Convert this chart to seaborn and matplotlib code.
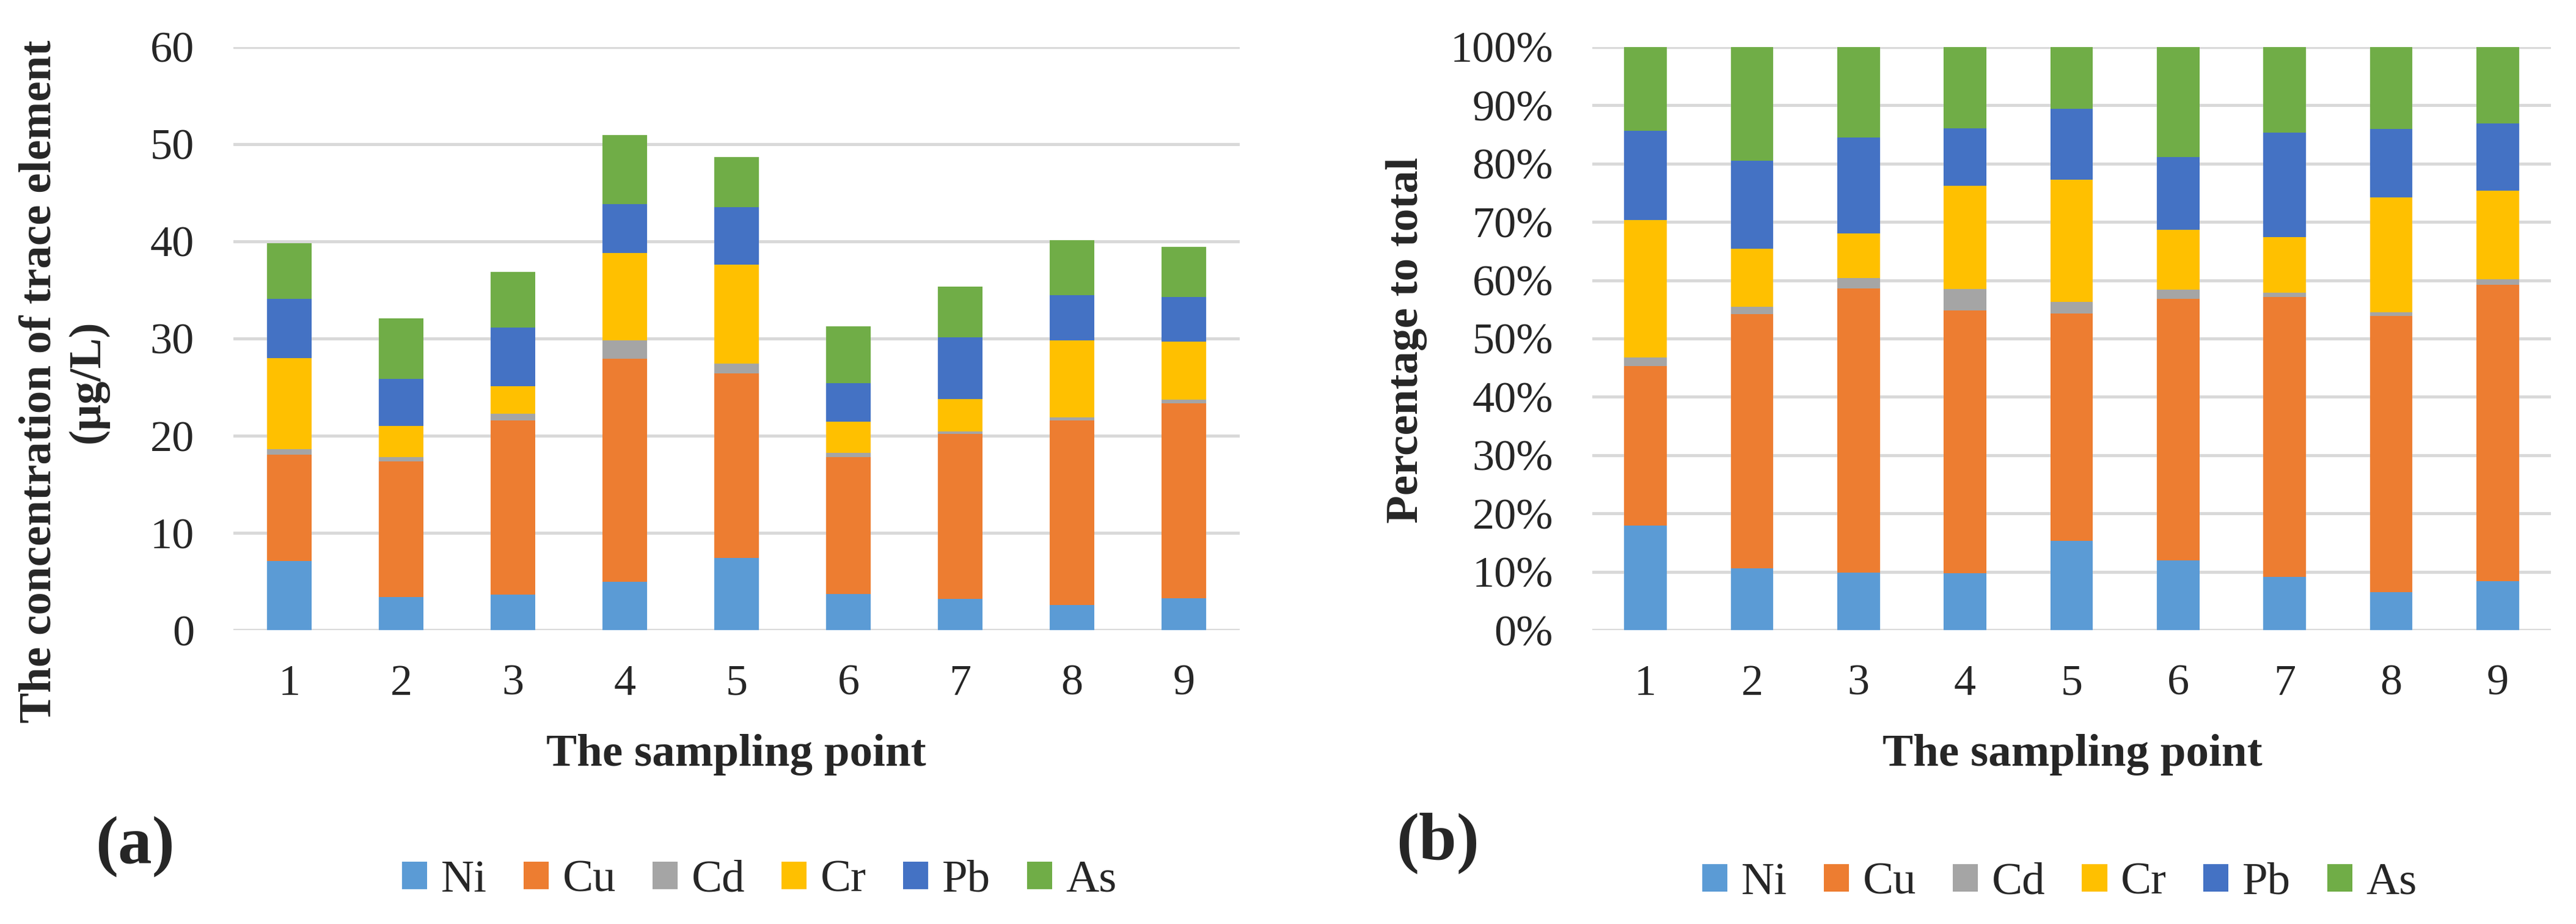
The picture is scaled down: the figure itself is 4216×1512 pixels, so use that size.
import numpy as np
import pandas as pd
import seaborn as sns
import matplotlib
matplotlib.use("Agg")
import matplotlib.pyplot as plt

# sampling points and trace element concentrations (ug/L)
points = ["1", "2", "3", "4", "5", "6", "7", "8", "9"]
elements = ["Ni", "Cu", "Cd", "Cr", "Pb", "As"]
Ni = [7.13, 3.39, 3.65, 4.97, 7.43, 3.74, 3.21, 2.60, 3.30]
Cu = [10.91, 13.99, 17.95, 22.97, 19.01, 14.03, 16.98, 19.00, 20.06]
Cd = [0.56, 0.39, 0.66, 1.84, 0.97, 0.49, 0.27, 0.27, 0.35]
Cr = [9.40, 3.21, 2.82, 9.02, 10.19, 3.21, 3.34, 7.91, 5.99]
Pb = [6.10, 4.84, 6.07, 5.06, 5.90, 3.91, 6.34, 4.71, 4.57]
As = [5.70, 6.25, 5.72, 7.09, 5.16, 5.90, 5.19, 5.63, 5.15]
colors = ["#5B9BD5", "#ED7D31", "#A5A5A5", "#FFC000", "#4472C4", "#70AD47"]

conc = pd.DataFrame({"Ni": Ni, "Cu": Cu, "Cd": Cd, "Cr": Cr, "Pb": Pb, "As": As},
                    index=points)
# share of each element in the total of each point
pct = conc.div(conc.sum(axis=1), axis=0) * 100

sns.set_theme(style="white")
plt.rcParams["font.family"] = ["Liberation Serif", "DejaVu Serif"]

fig = plt.figure(figsize=(21.08, 7.56), dpi=200)
ax_a = fig.add_axes([0.0906, 0.3181, 0.3907, 0.6310])
ax_b = fig.add_axes([0.6181, 0.3181, 0.3722, 0.6310])


def stacked(ax, df):
    bottom = np.zeros(len(df))
    for name, c in zip(elements, colors):
        sns.barplot(x=points, y=df[name].values, order=points, color=c,
                    saturation=1, width=0.4, errorbar=None, bottom=bottom,
                    label=name, ax=ax, linewidth=0)
        bottom = bottom + df[name].values
    leg = ax.get_legend()
    if leg is not None:
        leg.remove()
    ax.set_xlim(-0.5, 8.5)
    ax.set_xlabel("")
    ax.set_ylabel("")
    ax.set_axisbelow(True)
    ax.yaxis.grid(True, color="#D9D9D9", linewidth=1.8)
    ax.xaxis.grid(False)
    for s in ax.spines.values():
        s.set_visible(False)
    ax.tick_params(axis="both", length=0, labelsize=26)
    ax.tick_params(axis="y", pad=23)
    ax.tick_params(axis="x", pad=20)


stacked(ax_a, conc)
ax_a.set_ylim(0, 60)
ax_a.set_yticks(range(0, 61, 10))

stacked(ax_b, pct)
ax_b.set_ylim(0, 100)
ax_b.set_yticks(range(0, 101, 10))
ax_b.set_yticklabels([f"{v}%" for v in range(0, 101, 10)])

# axis titles
fig.text(0.0247, 0.587, "The concentration of trace element\n(\u00b5g/L)",
         rotation=90, ha="center", va="center", multialignment="center",
         fontsize=27, fontweight="bold", linespacing=1.2)
fig.text(0.546, 0.632, "Percentage to total", rotation=90, ha="center",
         va="center", fontsize=27, fontweight="bold")
fig.text(0.2858, 0.1713, "The sampling point", ha="center", va="baseline",
         fontsize=27, fontweight="bold")
fig.text(0.8046, 0.1713, "The sampling point", ha="center", va="baseline",
         fontsize=27, fontweight="bold")

# panel letters
fig.text(0.0524, 0.0833, "(a)", ha="center", va="center", fontsize=40,
         fontweight="bold")
fig.text(0.5581, 0.0873, "(b)", ha="center", va="center", fontsize=40,
         fontweight="bold")

# legends below each panel
for ax, (lx, ly) in [(ax_a, (0.2948, 0.047)), (ax_b, (0.7996, 0.0443))]:
    h, l = ax.get_legend_handles_labels()
    ax.legend(h[:6], l[:6], loc="center", bbox_to_anchor=(lx, ly),
              bbox_transform=fig.transFigure, ncol=6, frameon=False,
              fontsize=27, handlelength=0.55, handleheight=0.55,
              handletextpad=0.3, columnspacing=0.8)

fig.savefig("out.png", dpi=200)
